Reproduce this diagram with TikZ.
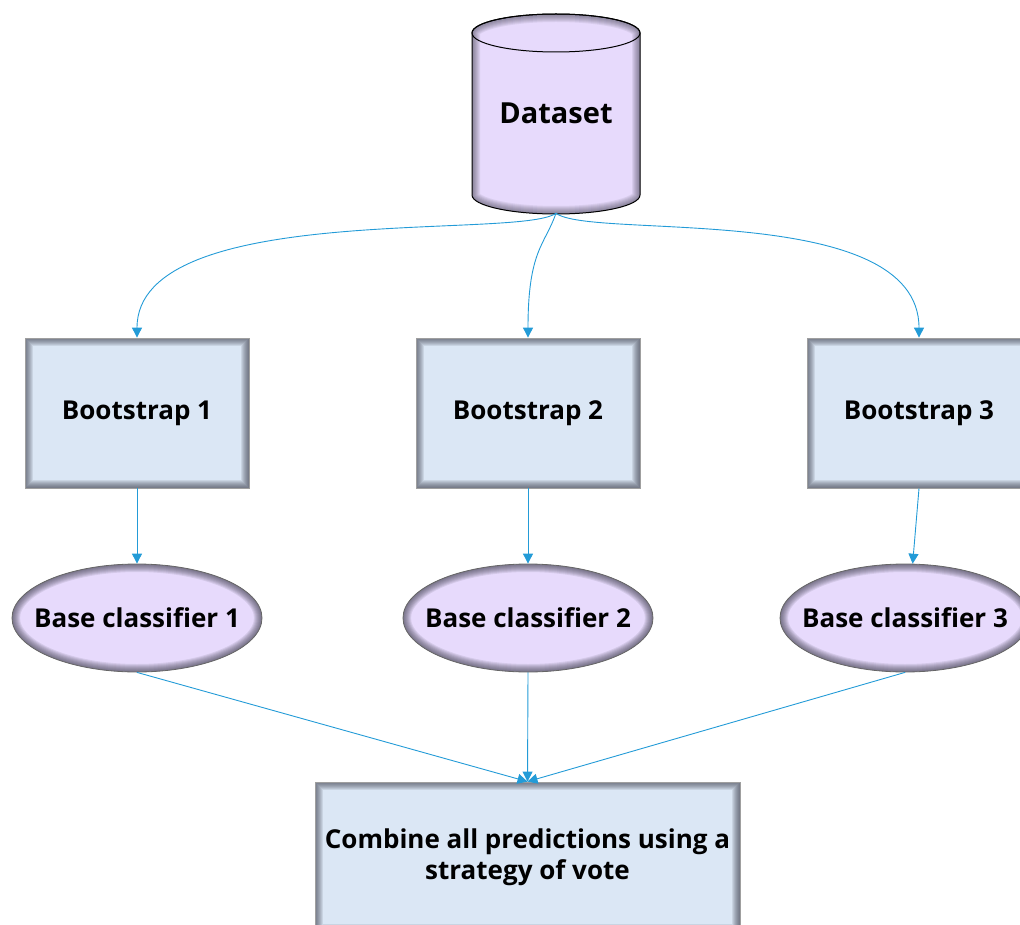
\documentclass[tikz,border=0pt]{standalone}
\usepackage{fontspec}
\setmainfont{Open Sans}
\usetikzlibrary{arrows.meta,shapes.geometric}
\definecolor{boxfill}{RGB}{219,231,245}
\definecolor{lav}{RGB}{231,218,252}
\definecolor{conncol}{RGB}{35,155,215}
\definecolor{shad}{RGB}{50,50,65}
\begin{document}
\begin{tikzpicture}[x=1pt,y=-1pt,
  font=\bfseries\fontsize{26pt}{31pt}\selectfont,
  boxnode/.style={rectangle, minimum width=224pt, minimum height=150pt, inner sep=0pt,
    fill=boxfill, draw=gray!75, line width=0.8pt, align=center,
    path picture={\foreach \w in {2,4,...,16}
      \draw[line width=\w pt, shad, opacity=0.1] (path picture bounding box.north west) rectangle (path picture bounding box.south east);}},
  clsnode/.style={ellipse, minimum width=250pt, minimum height=108pt, inner sep=0pt,
    fill=lav, draw=gray!80!black, line width=0.8pt,
    path picture={\foreach \w in {2,4,...,16}
      \draw[line width=\w pt, shad, opacity=0.1] (path picture bounding box.center) ellipse [x radius=125, y radius=54];}},
  link/.style={draw=conncol, line width=0.9pt, -{Triangle[length=10pt,width=10pt]}}]
\clip (0,0) rectangle (1020,925);
% Dataset cylinder
\fill[lav] (472,33) -- (472,195) arc[start angle=180, end angle=0, x radius=84, y radius=19]
  -- (640,33) arc[start angle=0, end angle=-180, x radius=84, y radius=19] -- cycle;
\begin{scope}
  \clip (472,33) -- (472,195) arc[start angle=180, end angle=0, x radius=84, y radius=19]
    -- (640,33) arc[start angle=0, end angle=-180, x radius=84, y radius=19] -- cycle;
  \foreach \w in {2,4,...,16}
    \draw[line width=\w pt, shad, opacity=0.08] (472,33) -- (472,195) arc[start angle=180, end angle=0, x radius=84, y radius=19]
      -- (640,33) arc[start angle=0, end angle=-180, x radius=84, y radius=19] -- cycle;
\end{scope}
\draw[black, line width=1pt] (472,33) -- (472,195) arc[start angle=180, end angle=0, x radius=84, y radius=19]
  -- (640,33) arc[start angle=0, end angle=-180, x radius=84, y radius=19] -- cycle;
\draw[black, line width=1pt] (556,33) ellipse [x radius=84, y radius=19];
\node[minimum width=168pt, minimum height=200pt, inner sep=0pt, font=\bfseries\fontsize{29pt}{34pt}\selectfont] (ds) at (556,113) {Dataset};
% bootstraps
\node[boxnode] (b1) at (137,413) {Bootstrap 1};
\node[boxnode] (b2) at (528,413) {Bootstrap 2};
\node[boxnode] (b3) at (919,413) {Bootstrap 3};
% classifiers
\node[clsnode] (c1) at (137,618) {\makebox[0pt]{Base classifier 1}};
\node[clsnode] (c2) at (528,618) {\makebox[0pt]{Base classifier 2}};
\node[clsnode] (c3) at (905,618) {\makebox[0pt]{Base classifier 3}};
% final
\node[boxnode, minimum width=425pt] (f) at (527.5,857) {Combine all predictions using a\\strategy of vote};
% connectors
\draw[link] (ds.south) .. controls (520,240) and (137,200) .. (b1.north);
\draw[link] (ds.south) .. controls (545,245) and (528,250) .. (b2.north);
\draw[link] (ds.south) .. controls (590,240) and (919,200) .. (b3.north);
\draw[link] (b1.south) -- (c1.north);
\draw[link] (b2.south) -- (c2.north);
\draw[link] (b3.south) -- (c3.82);
\draw[link] (c1.south) -- (f.north);
\draw[link] (c2.south) -- (f.north);
\draw[link] (c3.south) -- (f.north);
\end{tikzpicture}
\end{document}
